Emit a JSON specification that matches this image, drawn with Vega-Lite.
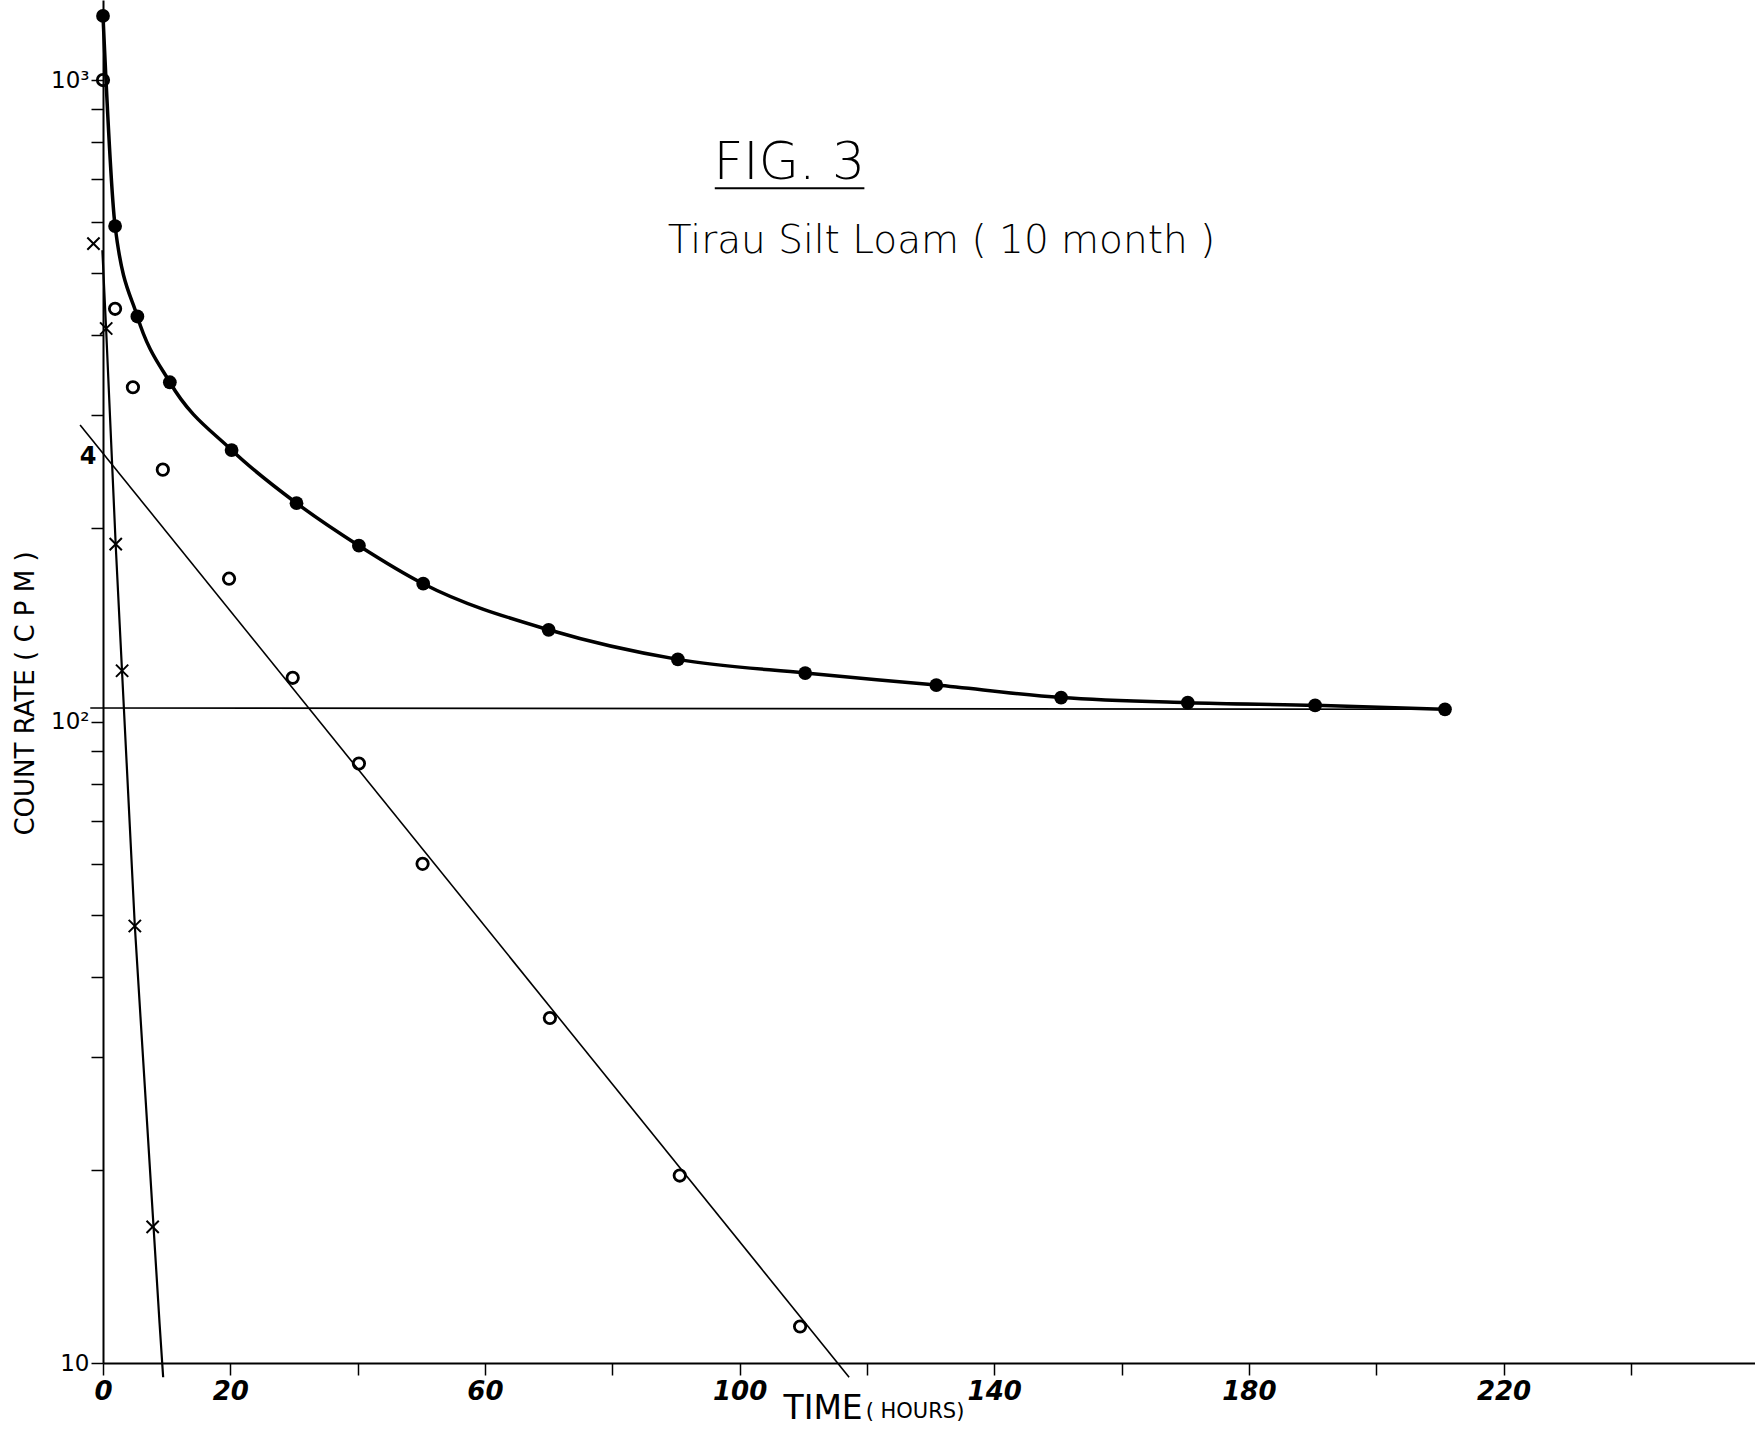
{
  "$schema": "https://vega.github.io/schema/vega-lite/v6.json",
  "width": 1652,
  "height": 1363,
  "autosize": {"type": "none"},
  "padding": {"left": 103, "top": 0, "right": 0, "bottom": 67},
  "background": "white",
  "config": {"view": {"stroke": null}, "font": "DejaVu Sans"},
  "data": {
    "values": [
      {"s": "filled", "t": 0, "v": 1259},
      {"s": "filled", "t": 1.9, "v": 592},
      {"s": "filled", "t": 5.4, "v": 428},
      {"s": "filled", "t": 10.5, "v": 338},
      {"s": "filled", "t": 20.2, "v": 265},
      {"s": "filled", "t": 30.4, "v": 219},
      {"s": "filled", "t": 40.2, "v": 188},
      {"s": "filled", "t": 50.3, "v": 164},
      {"s": "filled", "t": 70, "v": 139},
      {"s": "filled", "t": 90.3, "v": 125},
      {"s": "filled", "t": 110.3, "v": 119},
      {"s": "filled", "t": 130.9, "v": 114},
      {"s": "filled", "t": 150.5, "v": 109},
      {"s": "filled", "t": 170.4, "v": 107},
      {"s": "filled", "t": 190.4, "v": 106},
      {"s": "filled", "t": 210.8, "v": 104.5},
      {"s": "open", "t": 0, "v": 1000},
      {"s": "open", "t": 1.9, "v": 440},
      {"s": "open", "t": 4.7, "v": 332},
      {"s": "open", "t": 9.4, "v": 247},
      {"s": "open", "t": 19.8, "v": 167},
      {"s": "open", "t": 29.8, "v": 117},
      {"s": "open", "t": 40.2, "v": 86},
      {"s": "open", "t": 50.2, "v": 60},
      {"s": "open", "t": 70.2, "v": 34.5},
      {"s": "open", "t": 90.6, "v": 19.6},
      {"s": "open", "t": 109.5, "v": 11.4},
      {"s": "cross", "t": -1.5, "v": 556},
      {"s": "cross", "t": 0.5, "v": 410},
      {"s": "cross", "t": 2.0, "v": 189},
      {"s": "cross", "t": 3.0, "v": 120},
      {"s": "cross", "t": 5.0, "v": 48},
      {"s": "cross", "t": 7.8, "v": 16.3},
      {"s": "crossline", "t": -0.1, "v": 543},
      {"s": "crossline", "t": 0.5, "v": 407},
      {"s": "crossline", "t": 2.0, "v": 188},
      {"s": "crossline", "t": 5.0, "v": 48},
      {"s": "crossline", "t": 9.3, "v": 10},
      {"s": "crossline", "t": 9.45, "v": 9.5},
      {"s": "fitline", "t": -3.6, "v": 290},
      {"s": "fitline", "t": 117.2, "v": 9.5},
      {"s": "background", "t": -2, "v": 105},
      {"s": "background", "t": 210.8, "v": 104.5},
      {"s": "underline", "t": 96.1, "v": 678},
      {"s": "underline", "t": 119.6, "v": 678},
      {"s": "fig", "t": 107.8, "v": 702, "label": "FIG. 3"},
      {"s": "sub", "t": 88.7, "v": 537, "label": "Tirau Silt Loam ( 10 month )"},
      {"s": "four", "t": -2.35, "v": 258, "label": "4"},
      {"s": "hours", "t": 119.8, "v": 8.21, "label": "( HOURS)"}
    ]
  },
  "encoding": {
    "x": {
      "field": "t",
      "type": "quantitative",
      "scale": {"domain": [0, 259.5], "nice": false, "zero": false},
      "axis": {
        "values": [0, 20, 40, 60, 80, 100, 120, 140, 160, 180, 200, 220, 240],
        "labelExpr": "indexof([0, 20, 60, 100, 140, 180, 220], datum.value) >= 0 ? datum.label : ''",
        "grid": false,
        "domainColor": "black",
        "domainWidth": 2,
        "tickColor": "black",
        "tickWidth": 1.5,
        "tickSize": 12,
        "labelFontSize": 26,
        "labelFontStyle": "italic",
        "labelFontWeight": "bold",
        "labelColor": "black",
        "labelFlush": false,
        "labelOverlap": false,
        "labelPadding": 3,
        "title": "TIME",
        "titleFontSize": 33,
        "titleFontWeight": "normal",
        "titleColor": "black",
        "titleAlign": "left",
        "titleAnchor": null,
        "titleX": 680,
        "titleY": 55,
        "titleBaseline": "alphabetic"
      }
    },
    "y": {
      "field": "v",
      "type": "quantitative",
      "scale": {"type": "log", "domain": [10, 1333], "nice": false},
      "axis": {
        "values": [10, 20, 30, 40, 50, 60, 70, 80, 90, 100, 200, 300, 400, 500, 600, 700, 800, 900, 1000],
        "labelExpr": "datum.value == 10 ? '10' : datum.value == 100 ? '10²' : datum.value == 1000 ? '10³' : ''",
        "grid": false,
        "domainColor": "black",
        "domainWidth": 2,
        "tickColor": "black",
        "tickWidth": 1.5,
        "tickSize": 12,
        "labelFontSize": 23,
        "labelColor": "black",
        "labelOverlap": false,
        "labelPadding": 2,
        "title": "COUNT RATE ( C P M )",
        "titleFontSize": 26,
        "titleFontWeight": "normal",
        "titleColor": "black",
        "titleAngle": -90,
        "titleAlign": "center",
        "titleAnchor": null,
        "titleX": -78,
        "titleY": 693,
        "titleBaseline": "middle"
      }
    }
  },
  "layer": [
    {
      "transform": [{"filter": "datum.s == 'background'"}],
      "mark": {"type": "line", "color": "black", "strokeWidth": 1.6}
    },
    {
      "transform": [{"filter": "datum.s == 'fitline'"}],
      "mark": {"type": "line", "color": "black", "strokeWidth": 1.6}
    },
    {
      "transform": [{"filter": "datum.s == 'crossline'"}],
      "mark": {"type": "line", "color": "black", "strokeWidth": 2.2, "interpolate": "monotone"}
    },
    {
      "transform": [{"filter": "datum.s == 'filled'"}],
      "mark": {"type": "line", "color": "black", "strokeWidth": 3.5, "interpolate": "monotone"}
    },
    {
      "transform": [{"filter": "datum.s == 'underline'"}],
      "mark": {"type": "line", "color": "black", "strokeWidth": 2}
    },
    {
      "transform": [{"filter": "datum.s == 'filled'"}],
      "mark": {"type": "point", "shape": "circle", "filled": true, "color": "black", "size": 190, "opacity": 1}
    },
    {
      "transform": [{"filter": "datum.s == 'open'"}],
      "mark": {"type": "point", "shape": "circle", "filled": false, "color": "black", "size": 130, "strokeWidth": 2.8, "opacity": 1}
    },
    {
      "transform": [{"filter": "datum.s == 'cross'"}],
      "mark": {"type": "point", "shape": "M-1,-1L1,1M1,-1L-1,1", "filled": false, "color": "black", "size": 150, "strokeWidth": 2, "opacity": 1}
    },
    {
      "transform": [{"filter": "datum.s == 'fig'"}],
      "mark": {"type": "text", "fontSize": 52, "fontWeight": 200, "align": "center", "baseline": "alphabetic", "color": "black"},
      "encoding": {"text": {"field": "label"}}
    },
    {
      "transform": [{"filter": "datum.s == 'sub'"}],
      "mark": {"type": "text", "fontSize": 39, "fontWeight": 200, "align": "left", "baseline": "alphabetic", "color": "black"},
      "encoding": {"text": {"field": "label"}}
    },
    {
      "transform": [{"filter": "datum.s == 'four'"}],
      "mark": {"type": "text", "fontSize": 24, "fontWeight": "bold", "align": "center", "baseline": "middle", "color": "black"},
      "encoding": {"text": {"field": "label"}}
    },
    {
      "transform": [{"filter": "datum.s == 'hours'"}],
      "mark": {"type": "text", "fontSize": 21, "align": "left", "baseline": "alphabetic", "color": "black"},
      "encoding": {"text": {"field": "label"}}
    }
  ]
}
